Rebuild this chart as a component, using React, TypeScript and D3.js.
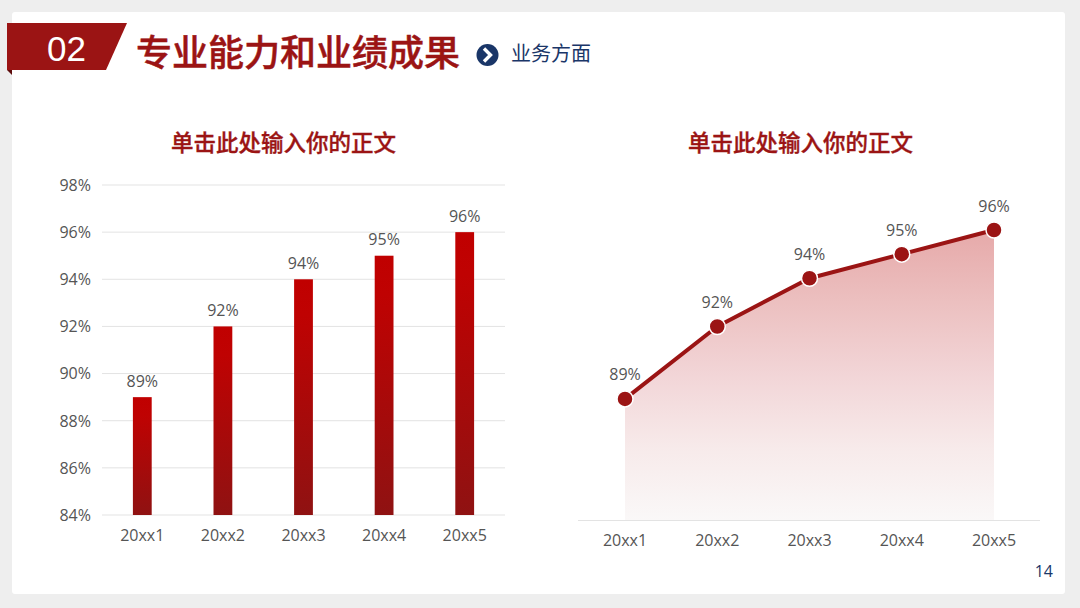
import React from "react";
import * as d3 from "d3";

const categories = ["20xx1", "20xx2", "20xx3", "20xx4", "20xx5"];
const values = [89, 92, 94, 95, 96];
const yTicks = [84, 86, 88, 90, 92, 94, 96, 98];
const sectionNumber = "02";
const pageTitle = "专业能力和业绩成果";
const subTitle = "业务方面";
const chartTitle = "单击此处输入你的正文";
const pageNumber = "14";

const RED = "#9b1414";
const TEXT = "#555555";
const NAVY = "#1a3668";
const FONT = "'Open Sans', 'Noto Sans CJK SC', sans-serif";
const CJK = "'Noto Sans CJK SC', sans-serif";

export default function App() {
  const xBar = d3.scaleBand<string>().domain(categories).range([102, 505]);
  const yBar = d3.scaleLinear().domain([84, 98]).range([515, 185]);
  const barW = 18.8;

  const xLine = d3.scalePoint<string>().domain(categories).range([625, 994]);
  const yLine = d3.scaleLinear().domain([84, 96]).range([519.5, 230]);
  const linePath = d3
    .line<number>()
    .x((_, i) => xLine(categories[i])!)
    .y((d) => yLine(d))(values)!;
  const areaPath = d3
    .area<number>()
    .x((_, i) => xLine(categories[i])!)
    .y0(520)
    .y1((d) => yLine(d))(values)!;

  return (
    <svg
      width={1080}
      height={608}
      viewBox="0 0 1080 608"
      style={{ position: "fixed", left: 0, top: 0, display: "block" }}
    >
      <defs>
        <linearGradient id="barGrad" x1="0" y1="0" x2="0" y2="1">
          <stop offset="0" stopColor="#c00000" />
          <stop offset="0.15" stopColor="#bf0202" />
          <stop offset="1" stopColor="#8f1212" />
        </linearGradient>
        <linearGradient id="areaGrad" gradientUnits="userSpaceOnUse" x1="0" y1="230" x2="0" y2="520">
          <stop offset="0" stopColor="#e6a9a9" />
          <stop offset="0.25" stopColor="#ecc0c0" />
          <stop offset="0.5" stopColor="#f2d5d7" />
          <stop offset="0.75" stopColor="#f7eaea" />
          <stop offset="1" stopColor="#faf8f8" />
        </linearGradient>
      </defs>

      <rect x={0} y={0} width={1080} height={608} fill="#eeeeee" />
      <rect x={12} y={12} width={1053} height={582} rx={3} fill="#ffffff" />

      {/* header */}
      <path d="M7,70 L12,70 L12,75 Z" fill="#5e0c0c" />
      <path d="M7,23 L127,23 L106,70 L7,70 Z" fill={RED} />
      <text x={66.5} y={60.5} textAnchor="middle" fontFamily="'Liberation Sans', sans-serif" fontSize={35} fill="#fff">
        {sectionNumber}
      </text>
      <text x={136} y={66} fontFamily={CJK} fontWeight={500} fontSize={36} fill={RED} stroke={RED} strokeWidth={0.5}>
        {pageTitle}
      </text>
      <circle cx={487.5} cy={55} r={11} fill={NAVY} />
      <path d="M484,48.5 L490.5,55 L484,61.5" fill="none" stroke="#fff" strokeWidth={3.4} />
      <text x={511} y={61} fontFamily={CJK} fontSize={20} fill={NAVY}>
        {subTitle}
      </text>

      {/* left chart */}
      <text x={283.5} y={151} textAnchor="middle" fontFamily={CJK} fontWeight={500} fontSize={22.5} fill={RED} stroke={RED} strokeWidth={0.35}>
        {chartTitle}
      </text>
      {yTicks.map((t) => (
        <g key={t}>
          <line x1={102} x2={505} y1={yBar(t)} y2={yBar(t)} stroke="#e3e3e3" strokeWidth={1} />
          <text x={91} y={yBar(t) + 5.8} textAnchor="end" fontFamily={FONT} fontSize={16} fill={TEXT}>
            {t}%
          </text>
        </g>
      ))}
      {values.map((v, i) => {
        const c = xBar(categories[i])! + xBar.bandwidth() / 2;
        return (
          <g key={categories[i]}>
            <rect x={c - barW / 2} y={yBar(v)} width={barW} height={yBar(84) - yBar(v)} fill="url(#barGrad)" />
            <text x={c} y={yBar(v) - 10.5} textAnchor="middle" fontFamily={FONT} fontSize={16} fill={TEXT}>
              {v}%
            </text>
            <text x={c} y={541} textAnchor="middle" fontFamily={FONT} fontSize={16} fill={TEXT}>
              {categories[i]}
            </text>
          </g>
        );
      })}

      {/* right chart */}
      <text x={800.5} y={151} textAnchor="middle" fontFamily={CJK} fontWeight={500} fontSize={22.5} fill={RED} stroke={RED} strokeWidth={0.35}>
        {chartTitle}
      </text>
      <path d={areaPath} fill="url(#areaGrad)" />
      <line x1={578} x2={1040} y1={520.5} y2={520.5} stroke="#e3e3e3" strokeWidth={1} />
      <path d={linePath} fill="none" stroke={RED} strokeWidth={4} strokeLinejoin="round" />
      {values.map((v, i) => {
        const cx = xLine(categories[i])!;
        const cy = yLine(v);
        return (
          <g key={categories[i]}>
            <circle cx={cx} cy={cy} r={8} fill={RED} stroke="#fff" strokeWidth={1.5} />
            <text x={cx} y={cy - 18.5} textAnchor="middle" fontFamily={FONT} fontSize={16} fill={TEXT}>
              {v}%
            </text>
            <text x={cx} y={546} textAnchor="middle" fontFamily={FONT} fontSize={16} fill={TEXT}>
              {categories[i]}
            </text>
          </g>
        );
      })}

      <text x={1053} y={577} textAnchor="end" fontFamily={FONT} fontSize={16} fill={NAVY}>
        {pageNumber}
      </text>
    </svg>
  );
}
